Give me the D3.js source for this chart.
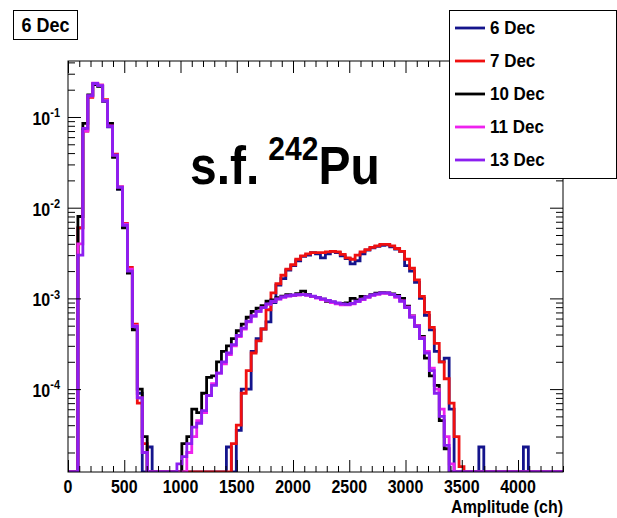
<!DOCTYPE html>
<html>
<head>
<meta charset="utf-8">
<script src="https://cdn.jsdelivr.net/npm/d3@7"></script>
<style>
  body { margin: 0; background: #fff; }
  text { font-family: "Liberation Sans", Arial, Helvetica, sans-serif; font-weight: bold; fill: #000; }
</style>
</head>
<body>
<div id="chart"></div>
<script>
// histogram: 100 bins of 44 channels, 0..4400
var binWidth = 44, xMin = 0, xMax = 4400;

var dec6 = [
  0, 0, 0.006, 0.072, 0.17, 0.23, 0.22, 0.15, 0.078, 0.037,
  0.016, 0.0062, 0.002, 0.00048, 0.00009, 0, 0.000023, 0, 0, 0,
  0, 0, 0, 0, 0, 0, 0, 0, 0, 0,
  0, 0, 0.000023, 0, 0.000035, 0.0001, 0.0001, 0.00026, 0.00036, 0.00046,
  0.00055, 0.0009, 0.0014, 0.00165, 0.00205, 0.0023, 0.0026, 0.0029, 0.003, 0.0032,
  0.0031, 0.0028, 0.0031, 0.0033, 0.0032, 0.00295, 0.00275, 0.0024, 0.0026, 0.0031,
  0.0034, 0.0036, 0.00375, 0.00385, 0.0039, 0.0037, 0.0035, 0.0033, 0.0023, 0.002,
  0.0015, 0.001, 0.00065, 0.00045, 0.00026, 0.0002, 0.00022, 0.00006, 0, 0,
  0, 0, 0, 0.000023, 0, 0, 0, 0, 0, 0,
  0, 0, 0.000023, 0, 0, 0, 0, 0, 0, 0
];
var dec7 = [
  0, 0, 0.006, 0.07, 0.165, 0.235, 0.225, 0.155, 0.082, 0.039,
  0.017, 0.0067, 0.0022, 0.00052, 0.00007, 0.000025, 0, 0, 0, 0,
  0, 0, 0, 0, 0, 0, 0, 0, 0, 0,
  0, 0, 0, 0.000025, 0.00004, 0.00009, 0.00016, 0.00025, 0.00034, 0.00046,
  0.00075, 0.00115, 0.00145, 0.0018, 0.0021, 0.00235, 0.0027, 0.00295, 0.0031, 0.0032,
  0.0032, 0.0032, 0.00325, 0.0033, 0.00325, 0.00305, 0.0028, 0.0027, 0.003, 0.00325,
  0.00345, 0.00365, 0.0038, 0.00395, 0.00395, 0.0038, 0.00355, 0.0033, 0.0027, 0.00215,
  0.0016, 0.00105, 0.0007, 0.00048, 0.00032, 0.0002, 0.00013, 0.00007, 0.00003, 0.000014,
  0, 0, 0, 0, 0, 0, 0, 0, 0, 0,
  0, 0, 0, 0, 0, 0, 0, 0, 0, 0
];
var dec10 = [
  0, 0, 0.008, 0.085, 0.175, 0.228, 0.218, 0.15, 0.085, 0.036,
  0.016, 0.006, 0.0019, 0.00045, 0.0001, 0.00003, 0, 0, 0, 0,
  0, 0, 0, 0.000025, 0.00003, 0.00006, 0.000055, 0.00009, 0.000135, 0.00014,
  0.0002, 0.00026, 0.0003, 0.00036, 0.00044, 0.00052, 0.00062, 0.00072, 0.00078, 0.00083,
  0.00093, 0.00096, 0.00102, 0.00106, 0.0011, 0.00108, 0.00113, 0.0012, 0.0011, 0.00105,
  0.00102, 0.00098, 0.00093, 0.00091, 0.00088, 0.00088, 0.00089, 0.001, 0.00096, 0.00105,
  0.00104, 0.0011, 0.00114, 0.00116, 0.00115, 0.00112, 0.00108, 0.001, 0.00082, 0.00064,
  0.0005, 0.00038, 0.00022, 0.00014, 0.00011, 0.000045, 0.000022, 0, 0, 0,
  0, 0, 0, 0, 0, 0, 0, 0, 0, 0,
  0, 0, 0, 0, 0, 0, 0, 0, 0, 0
];
var dec11 = [
  0, 0, 0.004, 0.07, 0.17, 0.236, 0.224, 0.152, 0.08, 0.038,
  0.017, 0.0066, 0.0021, 0.0005, 0.00008, 0.00002, 0, 0, 0, 0,
  0, 0, 0, 0, 0.00002, 0.00003, 0.000045, 0.000055, 0.000085, 0.000115,
  0.00015, 0.00019, 0.00024, 0.0003, 0.00038, 0.00046, 0.00055, 0.00064, 0.00072, 0.00079,
  0.00086, 0.00092, 0.00098, 0.00103, 0.00106, 0.00108, 0.00109, 0.0011, 0.00108, 0.00105,
  0.00101, 0.00097, 0.00094, 0.0009, 0.00087, 0.00085, 0.00085, 0.00087, 0.00092, 0.00097,
  0.00103, 0.00108, 0.00111, 0.00114, 0.00114, 0.0011, 0.00103, 0.00094, 0.0008, 0.00064,
  0.0005, 0.00037, 0.00026, 0.00017, 0.0001, 0.00006, 0.00003, 0.000015, 0, 0,
  0, 0, 0, 0, 0, 0, 0, 0, 0, 0,
  0, 0, 0, 0, 0, 0, 0, 0, 0, 0
];
var dec13 = [
  0, 0, 0.003, 0.075, 0.172, 0.234, 0.222, 0.15, 0.079, 0.038,
  0.0168, 0.0064, 0.002, 0.00049, 0.00008, 0.00002, 0, 0, 0, 0,
  0, 0, 0.000015, 0.000018, 0.000025, 0.000038, 0.000042, 0.000058, 0.000085, 0.00011,
  0.00015, 0.0002, 0.00025, 0.00031, 0.00039, 0.00047, 0.00056, 0.00064, 0.00072, 0.00079,
  0.00087, 0.00093, 0.00099, 0.00104, 0.00107, 0.00109, 0.0011, 0.0011, 0.00109, 0.00106,
  0.00102, 0.00099, 0.00095, 0.00092, 0.00089, 0.00087, 0.00086, 0.00088, 0.00093, 0.00098,
  0.00104, 0.00109, 0.00112, 0.00115, 0.00115, 0.00111, 0.00105, 0.00093, 0.00079, 0.00062,
  0.00049, 0.00036, 0.00025, 0.00016, 0.00009, 0.00005, 0.000024, 0, 0, 0,
  0, 0, 0, 0, 0, 0, 0, 0, 0, 0,
  0, 0, 0, 0, 0, 0, 0, 0, 0, 0
];

var seriesNames = ["6 Dec", "7 Dec", "10 Dec", "11 Dec", "13 Dec"];
var seriesColors = ["#14148c", "#f01010", "#000000", "#ee22ee", "#8c1ff0"];
var seriesValues = [dec6, dec7, dec10, dec11, dec13];

var xMajor = d3.range(0, 4001, 500);
var yMajor = [1e-4, 1e-3, 1e-2, 1e-1];

var width = 617, height = 518;
var frame = {left: 68, top: 61, right: 563, bottom: 472};
var stretch = 1.12; // text in the picture is a bit taller than wide

var svg = d3.select("#chart").append("svg")
    .attr("width", width)
    .attr("height", height);

svg.append("rect").attr("width", width).attr("height", height).attr("fill", "#fff");

var x = d3.scaleLinear().domain([xMin, xMax]).range([frame.left, frame.right]);
var y = d3.scaleLog().domain([1.219e-5, 0.4143]).range([frame.bottom, frame.top]);
var yMin = y.domain()[0];

function label(parent, px, py, size, anchor) {
  return parent.append("text")
      .attr("transform", "translate(" + px + "," + py + ") scale(1," + stretch + ")")
      .attr("font-size", size)
      .attr("text-anchor", anchor || "start");
}

svg.append("clipPath").attr("id", "clip")
  .append("rect")
    .attr("x", frame.left).attr("y", frame.top - 2)
    .attr("width", frame.right - frame.left).attr("height", frame.bottom - frame.top + 2);

// step outline like ROOT "HIST"; empty bins sit on the frame bottom
var line = d3.line()
    .x(function(d) { return x(d[0]); })
    .y(function(d) { return y(Math.max(d[1], yMin)); })
    .curve(d3.curveStepAfter);

var plot = svg.append("g").attr("clip-path", "url(#clip)");
seriesValues.forEach(function(vals, k) {
  var pts = vals.map(function(v, i) { return [xMin + i * binWidth, v]; });
  pts.push([xMin + vals.length * binWidth, vals[vals.length - 1]]);
  plot.append("path")
      .attr("d", line(pts))
      .attr("fill", "none")
      .attr("stroke", seriesColors[k])
      .attr("stroke-width", 2.8)
      .attr("stroke-linejoin", "miter");
});

var xMinor = d3.range(0, xMax + 1, 100).filter(function(v) { return v % 500 !== 0; });
var yMinor = [];
[1e-5, 1e-4, 1e-3, 1e-2, 1e-1].forEach(function(d) {
  for (var k = 2; k <= 9; k++) {
    var v = d * k;
    if (v > y.domain()[0] && v < y.domain()[1]) yMinor.push(v);
  }
});

function styleAxis(g) {
  g.select(".domain").remove();
  g.selectAll(".tick line").attr("stroke", "#000").attr("stroke-width", 1);
}

function ticks(axis, tx, ty, vals, len) {
  svg.append("g").attr("transform", "translate(" + tx + "," + ty + ")")
    .call(axis.tickValues(vals).tickSize(-len).tickFormat(""))
    .call(styleAxis);
}

ticks(d3.axisBottom(x), 0, frame.bottom, xMajor, 12);
ticks(d3.axisBottom(x), 0, frame.bottom, xMinor, 6);
ticks(d3.axisTop(x), 0, frame.top, xMajor, 12);
ticks(d3.axisTop(x), 0, frame.top, xMinor, 6);
ticks(d3.axisLeft(y), frame.left, 0, yMajor, 13);
ticks(d3.axisLeft(y), frame.left, 0, yMinor, 7);
ticks(d3.axisRight(y), frame.right, 0, yMajor, 13);
ticks(d3.axisRight(y), frame.right, 0, yMinor, 7);

// x labels
xMajor.forEach(function(v) {
  label(svg, x(v), 493, 16, "middle").text(v);
});

// y labels 10^n
yMajor.forEach(function(v) {
  var t = label(svg, 60, y(v) + 8, 16, "end");
  t.append("tspan").text("10");
  t.append("tspan").attr("font-size", 11).attr("dy", -7).text(String(Math.round(Math.log10(v))));
});

// frame
svg.append("rect")
    .attr("x", frame.left).attr("y", frame.top)
    .attr("width", frame.right - frame.left).attr("height", frame.bottom - frame.top)
    .attr("fill", "none").attr("stroke", "#000").attr("stroke-width", 1);

// axis title
label(svg, frame.right, 513, 16, "end").text("Amplitude (ch)");

// big label
var big = label(svg, 190, 184, 48, "start");
big.append("tspan").text("s.f.");
big.append("tspan").attr("font-size", 30).attr("dx", 9).attr("dy", -21).text("242");
big.append("tspan").attr("dy", 21).text("Pu");

// histogram title box
svg.append("rect").attr("x", 13.5).attr("y", 10.5).attr("width", 64).attr("height", 29)
    .attr("fill", "#fff").attr("stroke", "#000").attr("stroke-width", 1);
label(svg, 45.5, 32, 18, "middle").text("6 Dec");

// legend
var legend = svg.append("g");
legend.append("rect").attr("x", 449.5).attr("y", 10.5).attr("width", 167).attr("height", 168)
    .attr("fill", "#fff").attr("stroke", "#000").attr("stroke-width", 1);
seriesNames.forEach(function(name, k) {
  var ly = 28 + k * 33;
  legend.append("line")
      .attr("x1", 455).attr("x2", 485).attr("y1", ly).attr("y2", ly)
      .attr("stroke", seriesColors[k]).attr("stroke-width", 2.8);
  label(legend, 490, ly + 6, 17, "start").text(name);
});
</script>
</body>
</html>
